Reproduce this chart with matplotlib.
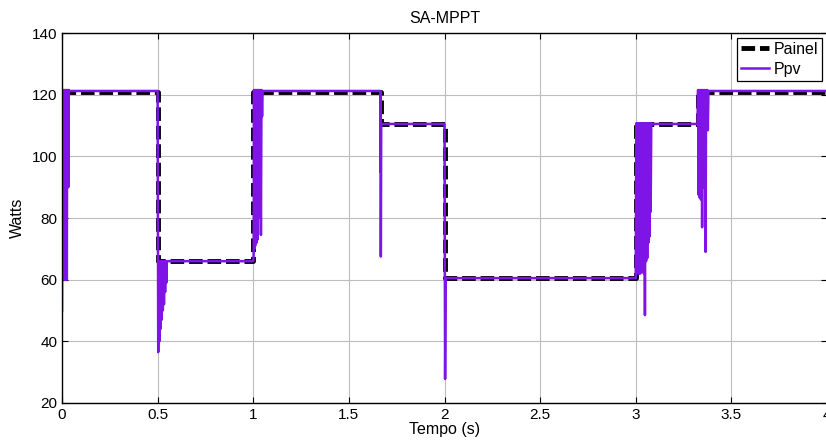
import numpy as np
import matplotlib.pyplot as plt

plt.rcParams['font.family'] = ['Liberation Sans', 'DejaVu Sans']

# Panel reference power (step changes in irradiance)
painel_t = [0.0, 0.5, 1.0, 1.666, 2.0, 3.0, 3.325, 4.0]
painel_w = [121, 66, 121, 110.5, 60.5, 110.5, 121, 121]

# Tracked PV power from the SA-MPPT controller
ppv_t = [0.000, 0.003, 0.005, 0.007, 0.009, 0.011, 0.013, 0.015, 0.017, 0.019,
         0.021, 0.023, 0.025, 0.027, 0.029, 0.031, 0.033, 0.035, 0.037,
         0.500, 0.503, 0.506, 0.509, 0.512, 0.515, 0.518, 0.521, 0.524, 0.527,
         0.530, 0.533, 0.536, 0.539, 0.542, 0.545, 0.548,
         1.000, 1.002, 1.004, 1.006, 1.008, 1.010, 1.012, 1.014, 1.016, 1.018,
         1.020, 1.022, 1.024, 1.026, 1.028, 1.030, 1.032, 1.034, 1.036, 1.040,
         1.043, 1.046, 1.049,
         1.664, 1.665, 1.666, 1.667, 1.669,
         2.000, 2.003, 2.006,
         3.000, 3.003, 3.006, 3.009, 3.012, 3.015, 3.018, 3.021, 3.024, 3.027,
         3.030, 3.033, 3.036, 3.039, 3.042, 3.045, 3.048, 3.051, 3.054, 3.057,
         3.060, 3.063, 3.066, 3.069, 3.072, 3.075, 3.078, 3.081, 3.084,
         3.323, 3.326, 3.329, 3.332, 3.335, 3.338, 3.341, 3.344, 3.347, 3.350,
         3.353, 3.356, 3.359, 3.362, 3.365, 3.368, 3.371, 3.374, 3.377, 3.380,
         4.000]
ppv_w = [50, 121.5, 73, 121.5, 62, 121.5, 60, 121.5, 60, 121.5,
         61, 121.5, 60, 121.5, 90, 121.5, 90, 121.5, 121.2,
         121.2, 36.5, 66, 40, 66, 44, 66, 47, 66, 50,
         66, 52, 66, 56, 66, 59, 66,
         66, 68, 121.5, 70, 121.5, 71, 121.5, 72, 121.5, 72,
         121.5, 73, 121.5, 80, 121.5, 82, 121.5, 82, 121.5, 74.5,
         121.5, 113, 121.2,
         121.2, 95, 121, 67.5, 110.5,
         110.5, 27.8, 60.5,
         60.5, 110.7, 78, 110.7, 62, 110.7, 62, 110.7, 62, 110.7,
         63, 110.7, 63, 110.7, 62, 110.7, 48.5, 110.7, 66, 110.7,
         67, 110.7, 72, 110.7, 74, 110.7, 82, 110.7, 110.5,
         110.5, 121.5, 87.5, 121.5, 86.5, 121.5, 86, 121.5, 77, 121.5,
         90, 121.5, 95, 121.5, 69, 121.5, 108.5, 121.5, 108.5, 121.2,
         121.2]

fig = plt.figure(figsize=(8.26, 4.43), dpi=100)
ax = fig.add_axes([0.0751, 0.0903, 0.9261, 0.8352])

ax.plot(painel_t, painel_w, drawstyle='steps-post', color='black', lw=3.5,
        dashes=(2.8, 1.0), label='Painel')
ax.plot(ppv_t, ppv_w, color='#7F14E6', lw=1.8, label='Ppv')

ax.set_xlim(0, 4)
ax.set_ylim(20, 140)
ax.set_xticks([0, 0.5, 1, 1.5, 2, 2.5, 3, 3.5, 4])
ax.set_xticklabels(['0', '0.5', '1', '1.5', '2', '2.5', '3', '3.5', '4'])
ax.set_yticks(np.arange(20, 141, 20))
ax.tick_params(direction='in', top=True, right=True, labelsize=11, length=4)
ax.grid(True, color='#bdbdbd', lw=0.8)
ax.set_axisbelow(True)
for s in ax.spines.values():
    s.set_linewidth(1.0)

ax.set_title('SA-MPPT', fontsize=11.5, pad=7)
ax.set_xlabel('Tempo (s)', fontsize=11.5, labelpad=0)
ax.set_ylabel('Watts', fontsize=11.5, labelpad=5)

leg = ax.legend(loc='upper right', fontsize=11.5, fancybox=False,
                edgecolor='black', framealpha=1, handlelength=1.75,
                borderpad=0.25, labelspacing=0.3, handletextpad=0.3,
                borderaxespad=0.3)
leg.get_frame().set_linewidth(0.9)

plt.savefig('out.png', dpi=100)
